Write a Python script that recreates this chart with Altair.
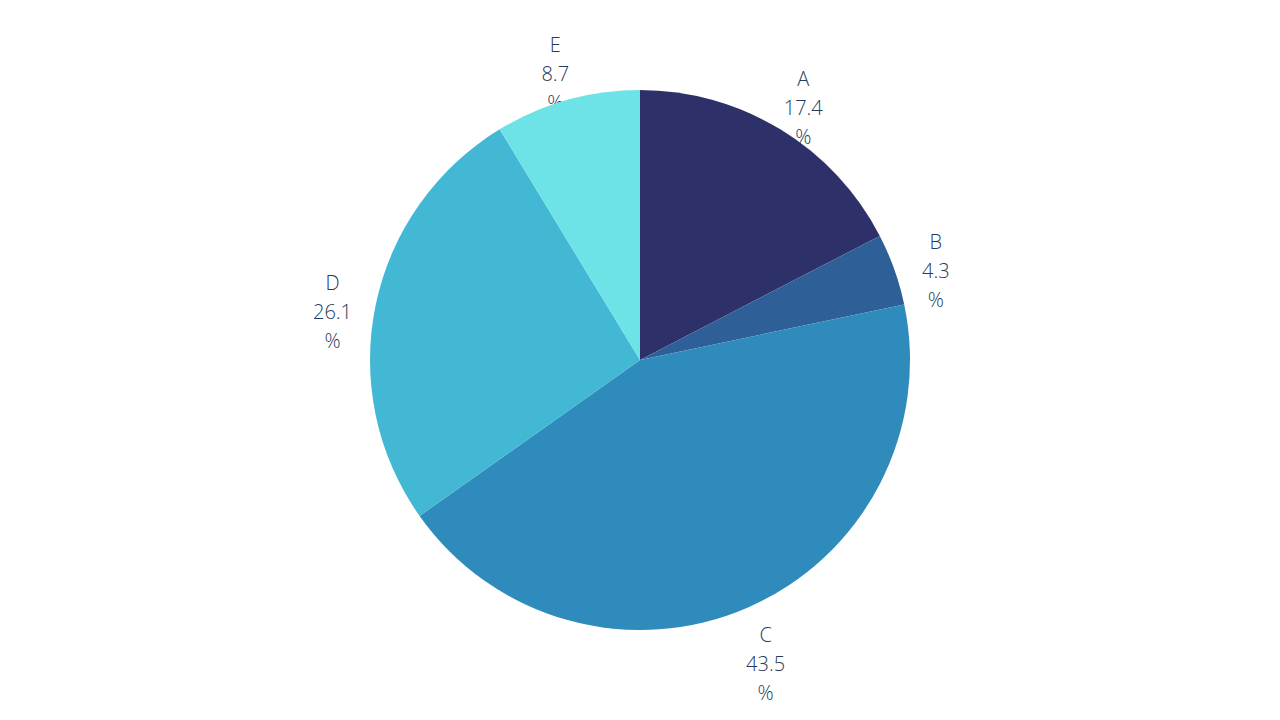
import altair as alt
import pandas as pd

categories = ["A", "B", "C", "D", "E"]
values = [17.4, 4.3, 43.5, 26.1, 8.7]
colors = ["#2e3169", "#2f5f97", "#2e8bbc", "#42b8d4", "#6de3e8"]

df = pd.DataFrame({"cat": categories, "val": values, "order": list(range(len(categories)))})
df["label"] = df["cat"] + "\n" + df["val"].map(lambda v: f"{v:.1f}") + "\n%"

color = alt.Color("cat:N", scale=alt.Scale(domain=categories, range=colors), legend=None)

text = alt.Chart(df).transform_window(
    cum="sum(val)", sort=[alt.SortField("order")], frame=[None, 0]
).transform_joinaggregate(
    total="sum(val)"
).transform_calculate(
    ang="(datum.cum - datum.val / 2) / datum.total * 2 * PI",
).mark_text(
    font="Open Sans",
    fontSize=20,
    fontWeight=300,
    lineHeight=29,
    lineBreak="\n",
    color="#253b5c",
    baseline="middle",
    align="center",
    radius=314,
    dy=-12,
).encode(
    text="label:N",
    theta=alt.Theta("ang:Q", scale=None, stack=None),
)

arcs = alt.Chart(df).mark_arc(outerRadius=270, stroke=None).encode(
    theta=alt.Theta("val:Q", stack=True),
    order=alt.Order("order:Q"),
    color=color,
)

chart = alt.layer(text, arcs).resolve_scale(theta="independent").properties(
    width=1264,
    height=704,
    autosize=alt.AutoSizeParams(type="fit", contains="padding"),
).configure_view(stroke=None)

chart.save("out.html", embed_options={"renderer": "svg", "actions": False})
